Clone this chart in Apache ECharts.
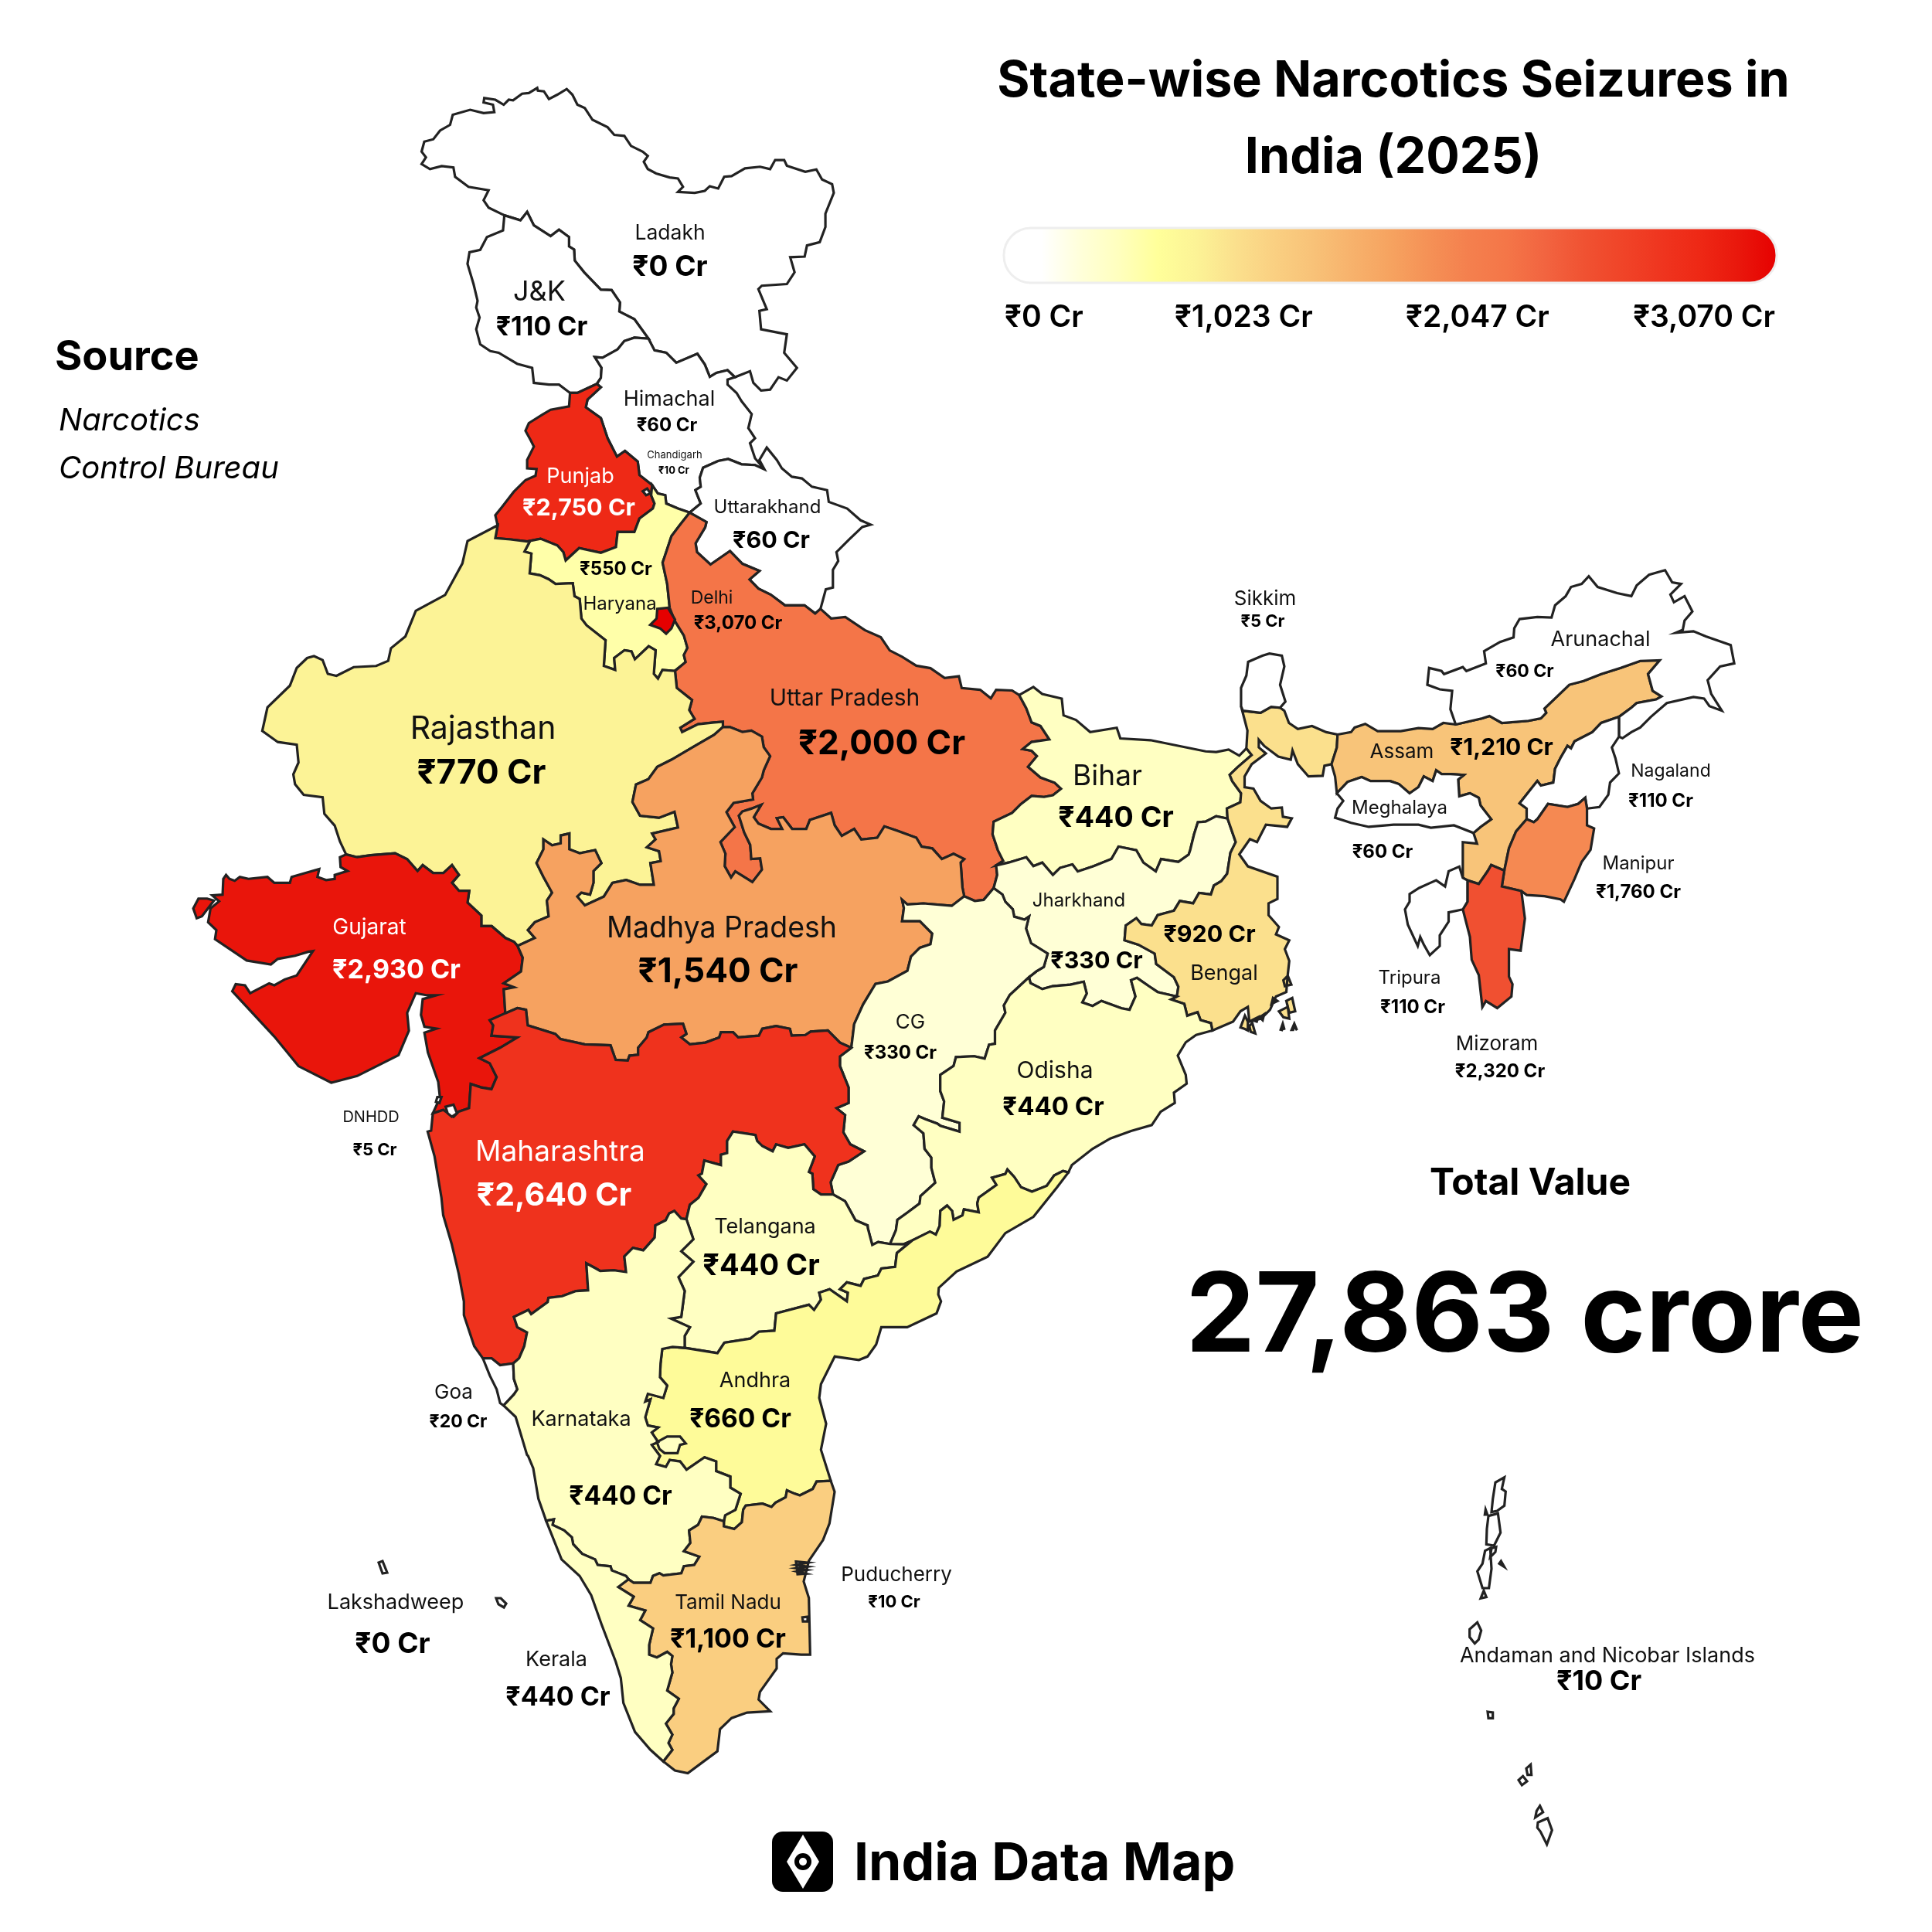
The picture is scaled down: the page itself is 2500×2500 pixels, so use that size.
<!DOCTYPE html>
<html>
<head>
<meta charset="utf-8">
<title>State-wise Narcotics Seizures in India (2025)</title>
<script src="https://cdn.jsdelivr.net/npm/echarts@6/dist/echarts.min.js"></script>
<style>
  html, body { margin: 0; padding: 0; background: #fff; }
  #chart { width: 2500px; height: 2500px; }
</style>
</head>
<body>
<div id="chart"></div>
<script>
// chart data
const states = ['Ladakh','J&K','Himachal','Chandigarh','Punjab','Uttarakhand','Haryana','Delhi','Uttar Pradesh','Sikkim','Arunachal','Assam','Nagaland','Meghalaya','Manipur','Tripura','Mizoram','Bihar','Jharkhand','Bengal','Rajasthan','Gujarat','Madhya Pradesh','CG','Odisha','DNHDD','Maharashtra','Telangana','Andhra','Goa','Karnataka','Tamil Nadu','Puducherry','Kerala','Lakshadweep','Andaman and Nicobar Islands'];
const seizures = [0,110,60,10,2750,60,550,3070,2000,5,60,1210,110,60,1760,110,2320,440,330,920,770,2930,1540,330,440,5,2640,440,660,20,440,1100,10,440,0,10];
const legendTicks = [0,1023,2047,3070];
const totalValue = '27,863 crore';
const sourceLines = ['Narcotics','Control Bureau'];

// colour ramp of the legend, evenly spaced from 0 to max
const ramp = ['#FFFFFF','#FFFFFF','#FFFFDA','#FFFFBE','#FFFF9A','#FCF396','#FBE08D','#FAD082','#F8C278','#F7B26C','#F6A360','#F59156','#F4804E','#F47648','#F26440','#F05232','#F04428','#EF351F','#EE2815','#E9170C','#E60000'];

const money = v => '₹' + v.toLocaleString('en-IN') + ' Cr';

// outline tracing: shared borders, written in the crop frame they were read from
// frame = [x0, y0, scaleX, scaleY]
const frames = {
  a:[500,90,2.306,2.306], b:[230,650,2.24,1.96], c:[800,680,2.178,2.178], d:[1100,1100,2.613,2.613],
  e:[1560,720,2.178,2.529], f:[540,1300,2.24,2.24], g:[650,1750,3,2.8], h:[1850,1880,3,3], o:[0,0,1,1]
};
const arcs = {
  ladakhFree:'a 352,435 305,412 290,390 305,360 245,350 205,320 200,292 165,288 130,297 105,282 118,262 105,245 113,215 140,208 160,182 190,165 198,135 250,120 290,130 322,127 318,105 290,98 292,85 325,90 350,105 365,90 378,92 405,72 425,70 450,55 452,63 470,65 485,88 510,75 538,58 555,75 570,105 592,115 615,150 660,172 680,195 710,198 730,228 765,245 780,258 768,275 780,297 805,310 845,322 870,325 885,350 870,365 920,368 950,362 965,348 990,355 1008,320 1030,318 1070,295 1115,290 1145,297 1160,270 1187,270 1195,287 1250,305 1283,298 1300,328 1330,342 1335,368 1310,430 1310,470 1293,515 1255,525 1248,558 1205,560 1218,605 1195,640 1120,645 1110,655 1135,715 1113,720 1118,775 1195,790 1187,845 1225,890 1195,928 1170,918 1145,955 1118,958 1095,935 1085,900 1040,918',
  ladakhHp:'a 1040,918 1018,897 985,905 965,917 950,880 928,848 865,875 835,845 800,838 782,803',
  jkLadakh:'a 352,435 400,450 420,425 440,465 490,497 515,478 545,500 545,528 560,537 562,570 590,605 640,657 672,658 697,695 695,722 740,745 782,803',
  jkWest:'a 352,435 348,480 300,500 280,538 248,545 242,580 260,640 272,690 268,710 278,740 268,775 280,820 310,840 335,845 390,878 435,890 440,935 485,940 515,940 548,965',
  jkPunjab:'a 548,965 570,965 628,938',
  jkHp:'a 628,938 640,920 642,890 622,858 645,860 690,835 710,810 740,800 782,803',
  hpEast:'a 1040,918 1018,925 1018,940 1045,965 1060,990 1090,1028 1080,1070 1100,1100 1085,1115 1100,1160 1128,1193',
  hpUk:'a 1128,1193 1100,1180 1060,1178 1020,1162 990,1168 945,1188 935,1218 938,1245 922,1255 938,1295 905,1322',
  hpHaryana:'a 905,1322 870,1310 835,1295 832,1270 810,1265 793,1240',
  punjabHp:'a 793,1240 755,1210 750,1170 712,1138 688,1155 660,1100 640,1040 595,1008 600,985 640,948 628,938',
  punjabWest:'a 548,965 545,1005 490,1015 465,1030 425,1055 415,1078 430,1105 440,1125 420,1165 420,1190 448,1192 445,1212 415,1225 380,1260 345,1305 325,1330 332,1360',
  punjabRaj:'a 332,1360 325,1398 370,1402 420,1408',
  punjabHaryana:'a 420,1408 460,1400 510,1420 528,1440 535,1465 575,1428 640,1442 685,1425 690,1380 740,1380 755,1340 795,1310 800,1295 790,1270 793,1240',
  ukFree:'a 1128,1193 1113,1165 1135,1128 1165,1165 1180,1190 1210,1215 1240,1220 1270,1245 1315,1255 1320,1290 1375,1310 1415,1345 1445,1358 1420,1365 c 650,40 615,75 620,100 605,125 605,175 585,180 570,235',
  ukUp:'c 570,235 555,248 525,225 470,225 430,195 395,178 370,152 398,128 350,108 315,72 260,110 222,75 218,50 245,5 a 955,1350 905,1322',
  haryanaRaj:'b 1020,100 1005,125 1025,130 1020,180 1050,185 1075,195 1095,207 1145,205 1150,238 1165,245 1170,295 1185,312 1240,350 1235,415 1268,425 1265,395 1295,375 1315,378 1325,398 1365,365 1385,375 1380,435 1392,447 1405,425 1440,428',
  haryanaUp:'a 905,1322 875,1360 c 150,30 135,75 125,105 138,165 145,232 160,270 185,310 195,345 185,365 190,385 160,410',
  rajFree:'a 332,1360 b 840,98 825,155 775,235 690,275 660,340 618,370 610,402 575,415 510,418 460,440 435,435 420,400 395,390 375,395 345,420 325,465 260,520 245,580 290,608 345,615 350,660 335,690 340,715 365,742 420,748 425,790 455,820 470,860 488,893',
  rajGuj:'b 488,893 520,900 560,895 630,890 665,905 695,935 710,920 740,940 770,940 795,920 815,945 795,965 815,985 845,985 840,1015 880,1048 880,1075 910,1075 950,1105 975,1115 985,1125',
  rajMp:'b 985,1125 1035,1105 1015,1085 1035,1065 1075,1050 1070,1010 1085,990 1060,950 1040,915 1060,880 1060,855 1085,870 1110,865 1110,845 1135,840 1135,880 1165,890 1210,882 1228,915 1205,935 1205,965 1195,995 1170,990 1158,1000 1180,1022 1235,1000 1260,965 1300,958 1340,970 1380,970 1370,915 1400,910 1395,885 1360,875 1385,855 1375,840 1450,825 1440,785 1395,800 1340,795 1318,760 c 50,730 85,715 110,680 150,660 210,625 270,590 295,568',
  upRaj:'c 160,410 165,458 208,492 200,520 215,545 175,570 180,582 225,560 270,555 295,553 295,568',
  mpUp:'c 295,568 315,568 350,582 375,578 405,595 410,625 428,650 410,690 405,710 378,755 380,772 325,782 305,808 328,850 288,892 302,925 300,960 318,992 330,975 378,1005 405,970 400,938 375,940 372,900 355,865 340,818 350,806 375,798 403,787 382,822 395,840 430,855 462,855 447,825 465,822 490,855 530,855 540,830 600,810 610,845 630,875 665,855 685,885 730,880 750,848 785,860 840,880 855,905 885,910 912,940 945,925 975,940 965,950 970,1020 975,1045',
  upCg:'c 975,1045 1005,1058 1030,1055 1058,1022',
  upJh:'c 1058,1022 1068,985 1065,958',
  upBihar:'c 1065,958 1085,945 1070,915 1055,870 1058,835 1110,810 1135,785 1165,762 1200,765 1225,760 1248,742 1230,725 1190,710 1155,680 1180,650 1165,635 1140,630 1165,610 1215,603 1190,565 1165,555 1150,515 1130,478',
  upNorth:'c 570,235 600,262 640,258 695,295 740,315 765,352 800,370 840,395 880,402 920,430 960,425 968,458 1020,463 1050,487 1065,463 1110,465 1130,478',
  biharNorth:'c 1130,478 1170,455 1195,475 1250,488 1255,535 1290,548 1330,582 1405,570 1415,600 1500,605 e 0,638 30,640 65,632 95,652 115,628',
  biharBengal:'e 115,628 130,650 90,690 68,715 75,735 100,775 98,805 60,825 62,858',
  jhBihar:'c 1065,958 1100,950 1150,935 1170,960 1195,950 1225,985 1245,965 1280,955 1295,975 1340,960 1390,940 1410,905 1460,915 1480,950 1515,975 1530,940 d 1110,40 1145,15 1150,0 o 1545,1080 1550,1064 e 0,868 30,850 62,858',
  jhBengal:'e 62,858 85,935 70,970 d 1275,80 1255,105 1230,120 1220,150 1180,145 1160,180 1115,172 1095,205 1040,220 1020,255 985,250 968,230 932,255 928,305 975,320 1030,350 1035,385 1095,430 1110,462 1105,495',
  bengalOdisha:'d 1105,495 1085,505 1130,520 1140,560 1175,548 1185,575 1220,585 1225,610',
  jhOdisha:'d 605,430 610,450 650,470 685,460 745,455 790,445 800,485 785,515 820,527 850,510 918,535 945,540 965,495 950,440 970,432 1010,460 1040,480 1105,495',
  cgJh:'c 1058,1022 d 515,150 525,175 550,200 555,225 590,235 605,225 595,265 612,315 668,350 655,395 630,410 605,430',
  cgOdisha:'d 605,430 540,490 520,525 525,550 490,610 490,655 470,658 455,705 420,697 358,700 350,730 305,760 305,815 318,850 312,905 370,922 370,952 305,932 295,925 255,910 232,900 215,930 248,958 252,1010 275,1040 275,1075 288,1125 238,1170 235,1195 195,1225 160,1250 155,1285 135,1332',
  cgTs:'d 135,1332 95,1325 75,1335 60,1278 f 1305,640 1270,625 1240,570 1205,550',
  cgMh:'f 1205,550 1198,515 1220,465 1250,455 1295,425 1255,405 1235,370 1240,320 1215,300 1250,285 1250,240 1225,178 1225,150 1258,125',
  cgMp:'f 1258,125 c 665,1405 690,1350 725,1292 760,1285 815,1255 825,1215 850,1190 880,1180 885,1150 850,1115 800,1115 805,1078 800,1055 815,1068 860,1065 940,1072 975,1045',
  odishaCoast:'d 1225,610 1170,625 1135,650 1108,695 1135,760 1138,790 1095,820 1098,855 1050,885 1020,930 950,950 880,975 820,1010 750,1065 738,1090',
  odishaAp:'d 738,1090 720,1085 690,1100 665,1135 615,1155 578,1140 555,1105 532,1080 525,1095 480,1108 495,1132 435,1175 430,1195 435,1225 385,1215 380,1235 350,1250 345,1220 328,1202 305,1220 303,1270 290,1300 270,1290 210,1320',
  odishaTs:'d 210,1320 180,1333 135,1332',
  bengalNeck:'e 115,628 118,570 100,490',
  sikkimBengal:'e 100,490 105,505 155,512 185,492 210,495',
  sikkimFree:'e 100,490 100,430 115,390 120,345 160,325 180,318 215,325 222,360 210,420 225,475 210,495',
  bengalNorth:'e 210,495 222,505 235,545 260,565 300,555 340,575 372,583',
  bengalAssam:'e 372,583 370,625 355,680',
  bengalFree:'e 355,680 335,685 330,718 290,720 260,680 245,635 240,665 205,655 165,620 150,600 150,625 170,645 130,680 110,720 110,755 135,760 155,800 185,825 215,822 218,852 243,857 230,885 170,878 145,935 125,925 95,975 d 1345,55 1445,90 1445,165 1415,180 1415,220 1450,260 1440,285 1485,305 1470,335 1485,375 1480,420 1475,480 1440,495 1420,540 1390,570 1350,580 1345,530 1320,545 1295,580 1225,610',
  assamNorth:'e 372,583 410,575 420,560 450,548 485,572 550,572 600,562 640,565 670,545 705,550',
  assamAr:'e 705,550 780,530 800,522 835,545 910,538 945,530 960,512 955,498 1025,420 1065,408 1115,385 1170,365 1225,342 1280,340 1247,385 1260,440 1285,458 1270,468 1215,480 1200,495 1165,525',
  assamNl:'e 1165,525 1115,545 1090,575 1040,605 1030,628 1020,620 1000,660 985,695 980,740 945,750 935,735 885,808 905,825 905,860',
  assamMn:'e 905,860 875,900 855,955 842,1028',
  assamMz:'e 842,1028 805,1010 795,1030 770,1072 738,1060',
  assamSouth:'e 738,1060 725,1052 725,1015 725,935 765,940 755,905',
  assamMl:'e 755,905 775,885 805,860 775,815 770,790 745,775 715,785 712,730 728,715 690,712 665,712 650,700 640,735 615,720 600,755 575,775 545,745 520,735 465,735 440,722 400,738 370,775',
  assamWest:'e 370,775 365,720 355,680',
  mlFree:'e 370,775 388,800 372,825 365,855 410,872 460,885 530,878 600,878 635,888 700,880 755,905',
  arFree:'e 705,550 690,500 695,440 660,435 625,420 630,365 665,375 672,385 725,362 735,375 790,350 785,310 830,280 868,265 870,235 885,205 935,198 975,200 985,160 1015,130 1030,100 1060,90 1080,65 1105,100 1160,120 1200,130 1215,95 1250,60 1295,45 1315,85 1340,90 1310,125 1320,150 1350,130 1372,180 1350,210 1345,240 1325,250 1375,245 1410,262 1480,290 1490,350 1450,360 1415,405 1425,450 1455,505 1420,490 1405,465 1375,460 1300,480 1255,525 1225,560 1200,575 1175,595 1165,590',
  arNl:'e 1165,590 1165,525',
  nlFree:'e 1165,590 1145,625 1155,660 1165,710 1140,740 1135,780 1110,820 1075,825',
  nlMn:'e 1075,825 1070,790 1050,810 1020,820 965,810 935,860 925,870 905,860',
  mnFree:'e 1075,825 1075,880 1095,890 1085,960 1060,1000 1040,1055 1010,1130 1000,1122 955,1112 905,1108 890,1095',
  mnMz:'e 890,1095 835,1080 842,1028',
  mzFree:'e 890,1095 900,1185 888,1290 855,1285 855,1375 865,1400 862,1440 822,1478 790,1455 780,1475 770,1370 750,1320 745,1245 725,1155',
  mzTripura:'e 725,1155 738,1130 738,1060',
  tripuraFree:'e 725,1155 685,1165 685,1195 660,1240 660,1275 632,1305 615,1270 605,1245 598,1275 570,1205 562,1155 575,1130 575,1105 602,1085 630,1070 650,1060 675,1080 685,1030 715,1015 725,1052 738,1060',
  gujFree:'b 488,893 470,900 472,925 492,935 455,945 455,955 430,958 405,950 410,930 330,950 325,965 280,965 260,950 205,955 180,950 165,960 150,955 140,945 132,955 130,995 100,997 120,1012 95,1030 88,1065 112,1085 108,1108 200,1162 270,1172 290,1158 340,1150 378,1140 392,1138 345,1200 310,1210 280,1225 265,1220 210,1245 195,1225 168,1222 158,1240 280,1355 350,1430 445,1472 520,1455 640,1402 670,1340 665,1295 690,1245 720,1250 750,1250 710,1260 705,1300 715,1330 750,1335 715,1345 725,1395 755,1470 760,1510 f 45,315',
  gujMh:'f 45,315 75,305 105,325 120,310 150,300 155,230 185,240 215,245 230,210 210,170 180,155 240,125 290,95 215,90 220,60 210,45 255,25',
  gujMp:'b 985,1125 1000,1155 995,1190 945,1220 975,1230 945,1235 950,1295',
  mpMh:'f 255,25 290,10 315,15 320,60 400,85 415,100 485,115 560,118 575,160 610,162 615,148 640,145 640,125 665,95 670,80 715,58 770,55 780,85 765,95 790,115 835,110 875,95 880,80 915,80 930,95 990,90 1000,70 1040,62 1080,70 1085,90 1125,88 1140,78 1190,75 1225,110 1258,125',
  mhTs:'f 1205,550 1170,550 1148,535 1145,490 1135,485 1152,440 1122,405 1075,415 1040,405 1030,425 1000,410 985,395 980,378 915,368 898,395 898,430 880,435 880,465 832,452 825,490 815,495 838,520 815,560 790,580 780,622',
  mhKa:'f 780,622 765,620 745,598 730,605 720,625 690,640 688,675 655,712 625,705 600,730 605,775 570,770 530,772 518,765 490,750 495,828 460,830 420,845 380,850 378,862 330,897 322,885 280,905 290,935 318,950 310,990 295,1025 278,1040',
  mhGoa:'f 278,1040 240,1045 215,1025 190,1025',
  mhCoast:'f 190,1025 165,990 135,900 135,860 120,780 100,695 75,610 70,560 50,440 30,368 40,365 45,315',
  goaKa:'f 278,1040 280,1085 290,1115 280,1130 250,1162',
  goaCoast:'f 190,1025 210,1075 230,1115 240,1155 250,1162',
  kaCoast:'f 250,1162 285,1195 318,1305 g 100,375 120,420 140,530 170,610',
  kaKerala:'g 170,610 200,605 195,625 240,645 270,670 275,695 310,730 360,750 370,770 420,775 425,790 480,810 490,822',
  kaTn:'g 490,822 510,835 575,835 585,810 610,800 625,808 695,800 705,775 745,770 765,740 705,720 730,690 725,645 760,625 775,595 820,600 860,612',
  kaAp:'f 775,995 740,992 710,998 705,1040 g 612,90 640,120 625,165 565,150 555,178 575,170 555,235 565,265 605,272 580,290 605,325 580,335 612,375 597,405 635,415 650,390 690,395 715,425 785,380 830,395 830,430 885,450 885,490 925,512 905,570 865,590 860,612',
  kaTs:'f 780,622 795,665 800,680 765,715 800,745 757,790 775,830 765,905 735,910 790,935 775,960 775,995',
  apTs:'f 775,995 870,1010 890,980 965,968 990,948 1035,945 1040,895 1135,870 1150,885 1170,855 1165,835 1195,825 1245,860 1248,835 1225,825 1245,805 1285,815 1295,795 1335,785 1345,765 1385,760 1390,720 d 210,1320',
  apCoast:'d 738,1090 700,1140 620,1240 525,1295 465,1375 360,1425 300,1480 f 1510,840 1518,860 1505,895 1420,935 1345,935 1330,985 1305,1020 1280,1030 1210,1020 1170,1100 1165,1140 1185,1215 1170,1290 g 1275,465',
  apTn:'g 1275,465 1220,468 1205,495 1155,518 1135,512 1105,500 1100,525 1060,545 1045,560 1010,548 945,555 935,570 930,615 900,640 860,630 860,612',
  tnCoast:'g 1275,465 1290,505 1270,620 1245,680 1190,755 1170,830 1190,890 1195,1095 1160,1095 1090,1090 1065,1110 1065,1145 1000,1230 995,1258 1040,1300 950,1305 890,1325 845,1365 835,1445 770,1490 720,1525 670,1515 625,1482',
  keralaTn:'g 625,1482 660,1440 645,1415 660,1385 635,1345 665,1310 665,1290 685,1255 640,1225 660,1160 655,1130 660,1100 640,1085 600,1105 570,1095 570,1060 585,1000 535,970 555,935 490,918 510,885 450,850 490,822',
  keralaCoast:'g 170,610 230,750 300,810 345,880 385,985 440,1120 460,1180 470,1270 515,1375 575,1440 625,1482'
};
// each region: closed rings; a ring is a list of arcs ('-' = walked backwards) or one loose loop
const regionShapes = {
  'Ladakh': [['ladakhFree','ladakhHp','-jkLadakh']],
  'J&K': [['jkWest','jkPunjab','jkHp','-jkLadakh']],
  'Himachal': [['-ladakhHp','hpEast','hpUk','hpHaryana','punjabHp','jkHp']],
  'Punjab': [['-jkPunjab','punjabWest','punjabRaj','punjabHaryana','punjabHp']],
  'Uttarakhand': [['ukFree','ukUp','-hpUk']],
  'Haryana': [['hpHaryana','-punjabHaryana','haryanaRaj','-haryanaUp']],
  'Uttar Pradesh': [['haryanaUp','upRaj','mpUp','upCg','upJh','upBihar','-upNorth','ukUp']],
  'Rajasthan': [['rajFree','rajGuj','rajMp','-upRaj','-haryanaRaj','-punjabRaj']],
  'Bihar': [['biharNorth','biharBengal','-jhBihar','upBihar']],
  'Jharkhand': [['jhBihar','jhBengal','-jhOdisha','-cgJh','upJh']],
  'Bengal': [['bengalNeck','sikkimBengal','bengalNorth','bengalAssam','bengalFree','-bengalOdisha','-jhBengal','-biharBengal'],
    'd 1320,600 1335,560 1345,580 1345,610 1335,605','d 1350,595 1360,585 1370,620 1355,615','d 1360,575 1380,565 1375,580','d 1385,565 1400,555 1395,575','d 1430,500 1445,510 1425,520','d 1450,545 1480,530 1485,570 1465,565','d 1475,510 1495,500 1505,545 1485,550','d 1456,607 1463,587 1469,608 1463,594 1460,608','d 1493,608 1502,587 1511,609 1502,595 1498,608','d 1465,440 1480,425 1492,455 1470,460'],
  'Sikkim': [['sikkimFree','-sikkimBengal']],
  'Assam': [['assamNorth','assamAr','assamNl','assamMn','assamMz','assamSouth','assamMl','assamWest','-bengalAssam']],
  'Meghalaya': [['mlFree','assamMl']],
  'Arunachal': [['arFree','arNl','-assamAr']],
  'Nagaland': [['-arNl','nlFree','nlMn','-assamNl']],
  'Manipur': [['nlMn','assamMn','-mnMz','-mnFree']],
  'Mizoram': [['mnMz','assamMz','-mzTripura','-mzFree']],
  'Tripura': [['tripuraFree','-mzTripura']],
  'Gujarat': [['gujFree','gujMh','-gujMp','-rajGuj'],'b 45,1030 60,1005 85,1005 105,1010 70,1050 55,1055'],
  'Madhya Pradesh': [['rajMp','mpUp','-cgMp','-mpMh','-gujMp']],
  'CG': [['cgMp','upCg','cgJh','cgOdisha','cgTs','cgMh']],
  'Odisha': [['jhOdisha','bengalOdisha','odishaCoast','odishaAp','odishaTs','-cgOdisha']],
  'Maharashtra': [['mpMh','-cgMh','mhTs','mhKa','mhGoa','mhCoast','gujMh']],
  'DNHDD': ['f 82,296 105,290 115,315 100,325 88,315','f 58,268 70,268 64,285 54,282'],
  'Telangana': [['kaTs','apTs','odishaTs','cgTs','mhTs']],
  'Andhra': [['kaAp','-apTn','-apCoast','odishaAp','-apTs']],
  'Goa': [['-mhGoa','goaKa','-goaCoast']],
  'Karnataka': [['mhKa','goaKa','kaCoast','kaKerala','kaTn','-kaAp','-kaTs'],'g 600,325 640,305 690,305 712,330 690,335 680,365 630,365 610,350'],
  'Tamil Nadu': [['kaTn','-apTn','tnCoast','keralaTn']],
  'Kerala': [['keralaCoast','keralaTn','-kaKerala']],
  'Delhi': ['c 110,235 140,232 160,265 150,290 135,305 118,290 90,280 108,262'],
  'Chandigarh': ['a 765,1258 778,1250 788,1265 775,1270'],
  'Puducherry': ['g 1140,758 1186,762 1142,770 1186,776 1142,782 1182,788 1144,794 1178,802 1146,804','g 1165,960 1185,958 1185,975 1167,975'],
  'Lakshadweep': ['o 490,2022 495,2020 501,2035 495,2036','o 642,2068 648,2068 655,2075 652,2080 645,2076'],
  'Andaman and Nicobar Islands': ['h 290,95 255,115 245,180 240,230 262,225 290,205 295,150 280,140','h 228,245 265,235 275,310 250,360 220,355 222,295','h 215,380 235,370 240,450 230,525 205,525 185,460 205,430','h 240,370 258,365 255,385 235,405','h 217,220 224,240 214,240','h 277,420 290,443 270,430','h 210,535 220,560 198,565','h 185,658 200,690 190,725 175,740 155,715 155,685','h 225,1005 245,1008 245,1030 228,1030','h 375,1225 392,1210 395,1250 380,1250','h 345,1270 362,1255 378,1275 358,1290','h 428,1370 440,1395 410,1415 415,1390','h 420,1435 458,1418 475,1465 455,1520 430,1470 418,1455']
};

function parsePath(text) {
  let fr = frames.o;
  const pts = [];
  text.split(' ').forEach(tok => {
    if (frames[tok]) { fr = frames[tok]; return; }
    const [x, y] = tok.split(',').map(Number);
    pts.push([fr[0] + x / fr[2], fr[1] + y / fr[3]]);
  });
  return pts;
}
function buildRing(item) {
  if (typeof item === 'string') return parsePath(item);
  let ring = [];
  item.forEach(ref => {
    const back = ref[0] === '-';
    const pts = parsePath(arcs[back ? ref.slice(1) : ref]);
    ring = ring.concat(back ? pts.reverse() : pts);
  });
  return ring;
}
const features = Object.keys(regionShapes).map(name => ({
  type: 'Feature',
  properties: { name },
  geometry: {
    type: 'MultiPolygon',
    coordinates: regionShapes[name].map(item => {
      const ring = buildRing(item);
      ring.push(ring[0]);
      return [ring];
    })
  }
}));
echarts.registerMap('india', { type: 'FeatureCollection', features });

// where each region's two text lines sit: [nameX, nameY, nameSize, valueX, valueY, valueSize, colour]
const labelSpots = {
  'Ladakh':[867,300,26.5,867,344,37], 'J&K':[698,376,36,701,422,34], 'Himachal':[866,515,27,863,549,24],
  'Chandigarh':[873,587,13,872,607,13], 'Punjab':[751,615,27,749,656,30.5,'#fff'], 'Uttarakhand':[993,655,24,998,698,30.5],
  'Haryana':[802,780,24,797,735,24], 'Delhi':[921,772,23,955,805,24], 'Uttar Pradesh':[1093,902,30,1141,961,44],
  'Sikkim':[1637,773,26,1634,802,22], 'Arunachal':[2071,826,27,1973,867,23], 'Assam':[1814,971,26,1943,966,30],
  'Nagaland':[2162,996,23,2149,1035,24], 'Meghalaya':[1811,1044,24,1789,1101,24], 'Manipur':[2120,1116,24,2120,1153,24],
  'Tripura':[1824,1264,24,1828,1302,24], 'Mizoram':[1937,1349,26,1941,1385,24], 'Bihar':[1433,1003,37,1444,1057,37.5],
  'Jharkhand':[1396,1164,24,1419,1242,30.5], 'Bengal':[1584,1258,27,1565,1208,30.5], 'Rajasthan':[625,942,41,623,999,44],
  'Gujarat':[478,1199,28,513,1254,34,'#fff'], 'Madhya Pradesh':[934,1200,37.5,929,1256,44], 'CG':[1178,1321,26,1165,1361,24],
  'Odisha':[1365,1384,30,1363,1431,33], 'DNHDD':[480,1444,20,485,1486,22], 'Maharashtra':[725,1489,37,717,1546,41,'#fff'],
  'Telangana':[990,1586,27,985,1637,38], 'Andhra':[977,1785,27,958,1835,33.5], 'Goa':[587,1800,26,593,1838,23],
  'Karnataka':[752,1835,27,803,1935,33.5], 'Tamil Nadu':[942,2072,26,942,2120,34], 'Puducherry':[1160,2036,26,1157,2071,22],
  'Kerala':[720,2146,27,722,2195,34], 'Lakshadweep':[512,2072,27,508,2126,37], 'Andaman and Nicobar Islands':[2080,2141,27,2069,2174,36]
};

const FONT = 'Inter';
const TEXT_NUDGE = 2;
function txt(text, x, y, size, weight, opts) {
  opts = opts || {};
  return {
    type: 'text', x, y: y + TEXT_NUDGE, silent: true, z: 20,
    style: {
      text, fontFamily: FONT, fontSize: size, fontWeight: weight, fontStyle: opts.italic ? 'italic' : 'normal',
      fill: opts.fill || '#000', align: opts.align || 'center', verticalAlign: 'middle'
    }
  };
}

const elements = [];
states.forEach((name, i) => {
  const s = labelSpots[name];
  const fill = s[6] || '#000';
  elements.push(txt(name, s[0], s[1], s[2], 400, { fill: s[6] || '#111' }));
  elements.push(txt(money(seizures[i]), s[3], s[4], s[5], 700, { fill }));
});

// title, legend bar, source, total, logo
elements.push(txt('State-wise Narcotics Seizures in', 1803, 104, 64.6, 700));
elements.push(txt('India (2025)', 1803, 203, 64.6, 700));
elements.push({
  type: 'rect', x: 1299, y: 295, z: 15, silent: true,
  shape: { width: 1000, height: 71, r: 35 },
  style: {
    stroke: '#eeeeee', lineWidth: 3,
    fill: { type: 'linear', x: 0, y: 0, x2: 1, y2: 0, colorStops: ramp.map((c, i) => ({ offset: i / (ramp.length - 1), color: c })) }
  }
});
const tickX = [1300, 1520, 1819, 2297];
legendTicks.forEach((t, i) => {
  elements.push(txt(money(t), tickX[i], 409, 39, 600, { align: i === 3 ? 'right' : 'left' }));
});
elements.push(txt('Source', 71, 461, 54, 700, { align: 'left' }));
sourceLines.forEach((line, i) => {
  elements.push(txt(line, 76, 543 + i * 62, 40, 400, { align: 'left', italic: true }));
});
elements.push(txt('Total Value', 1980, 1530, 48, 700));
elements.push(txt(totalValue, 1973, 1704, 143, 700));
elements.push({ type: 'rect', x: 999, y: 2370, z: 15, silent: true, shape: { width: 79, height: 78, r: 14 }, style: { fill: '#000' } });
elements.push({ type: 'polygon', z: 16, silent: true, shape: { points: [[1039, 2374], [1060, 2409], [1039, 2444], [1018, 2409]] }, style: { fill: '#fff' } });
elements.push({ type: 'circle', z: 17, silent: true, shape: { cx: 1039, cy: 2409, r: 11 }, style: { fill: '#000' } });
elements.push({ type: 'circle', z: 18, silent: true, shape: { cx: 1039, cy: 2409, r: 5 }, style: { fill: '#fff' } });
elements.push(txt('India Data Map', 1105, 2411, 68, 700, { align: 'left' }));

const chart = echarts.init(document.getElementById('chart'));
chart.setOption({
  backgroundColor: '#ffffff',
  animation: false,
  visualMap: { show: false, min: 0, max: 3070, seriesIndex: 0, inRange: { color: ramp } },
  series: [{
    type: 'map',
    map: 'india',
    silent: true,
    roam: false,
    left: 0, top: 0, width: 2500, height: 2500,
    projection: { project: p => p, unproject: p => p },
    boundingCoords: [[0, 0], [2500, 2500]],
    label: { show: false },
    emphasis: { disabled: true },
    select: { disabled: true },
    itemStyle: { borderColor: '#222222', borderWidth: 3.2 },
    data: states.map((name, i) => ({ name, value: seizures[i] }))
  }],
  graphic: { elements }
});
</script>
</body>
</html>
